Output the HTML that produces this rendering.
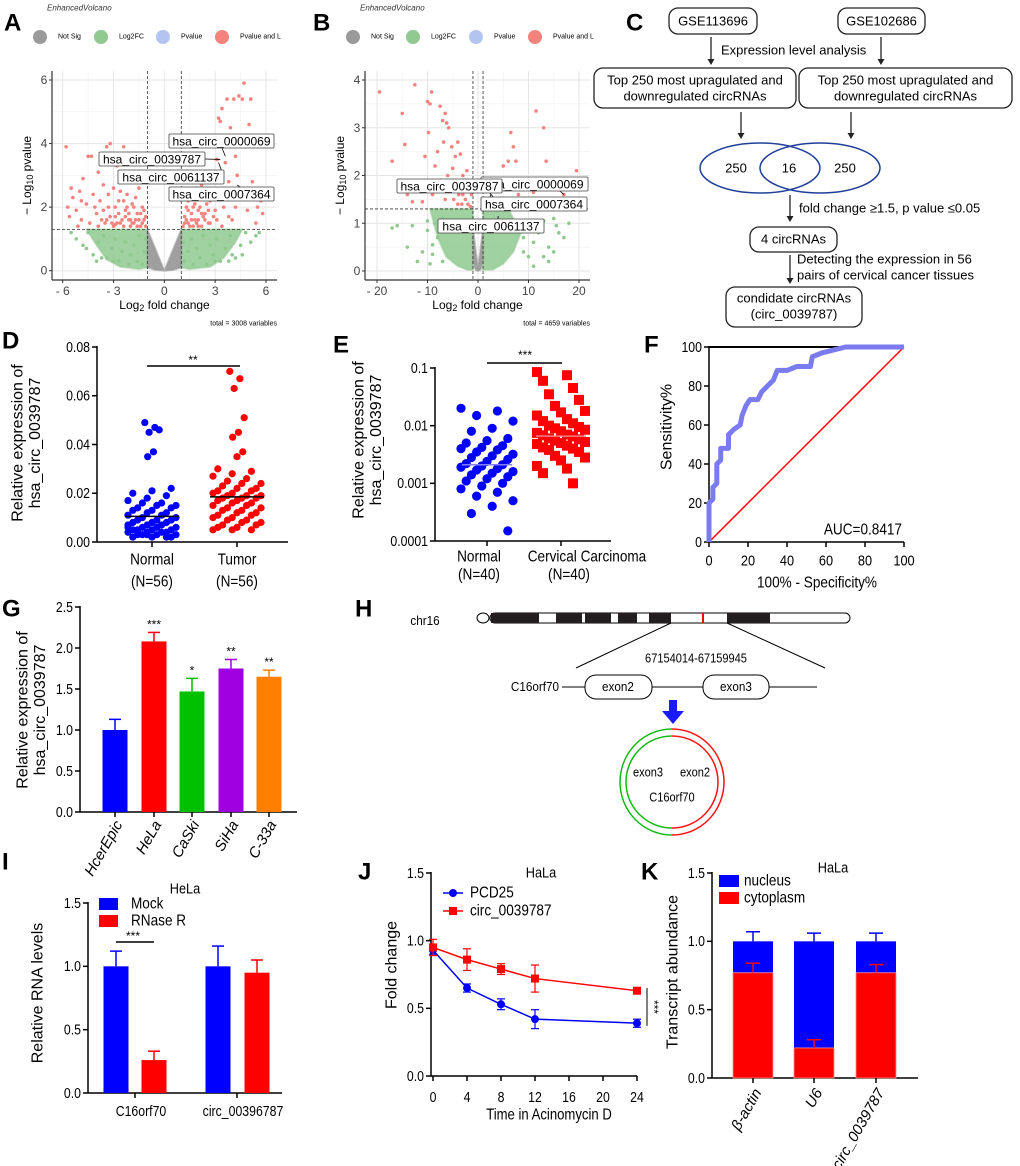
<!DOCTYPE html>
<html><head><meta charset="utf-8"><style>
html,body{margin:0;padding:0;background:#fff}
svg{display:block;font-family:"Liberation Sans",Arial,sans-serif}
</style></head><body>
<svg id="fig" width="1020" height="1166" viewBox="0 0 1020 1166" xmlns="http://www.w3.org/2000/svg">
<rect x="0" y="0" width="1020" height="1166" fill="#fff"/>
</svg>
<script>
// ===== DATA =====
const aRed=[-5.8,3.9,-5.7,2.0,-5.6,1.7,-5.5,2.6,-5.4,2.3,-5.2,1.9,-5.0,2.5,-4.9,1.6,-4.8,2.9,-4.6,2.1,-4.5,3.6,-4.3,3.6,-4.2,2.4,-4.0,1.8,-3.9,3.1,-3.8,2.2,-3.6,2.7,-3.5,1.5,-3.4,3.9,-3.3,2.0,-3.2,4.0,-3.0,2.6,-2.9,1.7,-2.8,3.3,-2.7,2.2,-2.6,1.5,-2.5,2.9,-2.4,3.9,-2.3,1.9,-2.2,2.4,-2.1,1.6,-2.0,2.8,-1.9,2.1,-1.8,1.5,-1.7,2.3,-1.6,1.8,-1.5,2.6,-1.4,1.4,-1.3,2.0,-1.2,1.6,-1.1,1.4,-4.4,1.5,-3.9,1.4,-3.1,1.5,-2.4,1.4,-2.0,1.6,-1.6,1.4,-3.6,1.9,-2.7,1.8,-4.9,2.2,-3.3,2.4,-2.2,2.0,-1.9,1.5,-1.4,1.8,-3.0,1.4,-2.6,2.5,-5.1,1.4,-1.5,1.6,-2.9,2.0,-3.7,1.6,-2.3,1.7,-1.2,1.9,-4.1,2.0,-2.8,1.5,-2.5,1.6,-2.1,1.8,-1.7,1.6,-1.3,1.5,-2.4,2.2,-3.2,1.7,-1.1,1.7,-1.8,2.0,-2.0,1.4,-2.9,1.45,-3.4,1.6,
1.1,1.4,1.2,1.7,1.3,2.0,1.4,1.5,1.5,2.3,1.6,1.8,1.7,1.4,1.8,2.1,1.9,2.6,2.0,1.6,2.1,2.0,2.2,1.4,2.3,2.4,2.4,1.8,2.5,2.9,2.6,1.5,2.7,2.2,2.8,3.1,2.9,1.7,3.0,2.5,3.1,3.5,3.2,4.8,3.3,4.7,3.4,5.1,3.5,2.0,3.6,3.4,3.7,5.4,3.8,2.8,3.9,4.5,4.0,1.6,4.1,5.4,4.2,3.6,4.3,3.0,4.4,5.5,4.5,2.3,4.6,5.4,4.7,5.9,4.8,3.9,4.9,1.9,5.0,4.6,5.1,5.4,5.2,2.8,5.4,1.5,5.5,2.0,5.7,2.2,5.8,1.8,2.2,2.7,1.6,2.3,2.0,1.9,1.4,1.9,3.4,1.4,2.7,1.5,3.8,1.7,4.2,2.0,1.9,1.5,2.5,2.1,1.3,1.6,1.7,2.0,2.4,1.6,3.0,1.9,1.5,1.4,2.9,2.3,1.2,1.5,1.6,1.6,2.0,1.4,2.3,1.7,2.6,1.9,1.4,2.2,1.8,1.6,3.1,1.6,2.2,1.8];
const aGreen=[-5.2,1.0,-4.8,0.8,-4.5,1.2,-4.2,0.5,-3.9,0.9,-3.6,1.1,-3.4,0.4,-3.1,0.7,-2.9,1.0,-2.7,0.3,-2.5,0.6,-2.3,0.9,-2.1,0.2,-2.0,0.5,-1.8,0.8,-1.6,0.3,-1.5,1.1,-1.3,0.2,-1.2,0.6,-1.1,1.0,-3.0,0.3,-5.5,1.2,-4.0,0.3,-4.6,0.7,-3.7,0.4,
1.1,0.9,1.2,0.3,1.4,0.6,1.6,1.0,1.7,0.2,1.9,0.7,2.1,0.4,2.3,1.1,2.5,0.2,2.7,0.8,2.9,0.5,3.1,1.0,3.3,0.3,3.6,0.7,3.9,1.1,4.2,0.4,4.5,0.8,4.8,1.2,5.1,0.9,5.4,1.1,3.0,0.3,4.0,0.5,5.6,1.2,3.8,0.3,4.6,0.5];
const aGreenCloudL=[-1,1.3,-4.6,1.3,-4.0,0.8,-3.4,0.35,-2.6,0.12,-1.5,0.05,-1,0.1];
const aGreenCloudR=[1,1.3,4.6,1.3,4.2,0.9,3.5,0.4,2.7,0.12,1.5,0.05,1,0.1];
const aGrey=[-1,1.3,-1,0.1,-0.5,0.02,0,0,0.5,0.02,1,0.1,1,1.3,0,0];
const bRed=[-19.5,3.75,-17,2.3,-15,3.3,-14.5,2.65,-14,1.6,-13,1.45,-12.5,3.9,-12,1.7,-11,1.45,-10.5,2.4,-10,3.55,-9.8,2.9,-9.5,3.5,-9.2,3.75,-9,1.6,-8.5,2.2,-8,2.5,-7.5,3.45,-7.3,1.9,-7,3.15,-6.8,2.7,-6.5,3.3,-6.2,3.1,-6,2.0,-5.8,3.0,-5.5,1.7,-5.2,2.6,-5,2.15,-4.8,1.5,-4.5,2.4,-4.2,1.9,-4,2.7,-3.8,1.6,-3.5,2.45,-3.2,1.4,-3,2.0,-2.8,1.8,-2.5,1.5,-2.2,2.1,-2,1.4,-1.8,1.7,-1.5,1.35,-1.3,1.6,-6.5,1.5,-8.8,1.8,-10.8,1.7,-4,1.4,-3,1.6,-5,1.8,-2.5,1.9,
2,1.5,3,1.7,4,1.4,5,2.2,6,2.3,7,2.6,7.5,2.3,8,1.6,9,1.9,10,1.5,11,1.65,11.5,3.35,13,3.0,13.5,2.3,14,1.5,16,1.7,17,1.6,19.5,2.1,6.5,2.9,5.5,1.8,3,1.45,1.8,1.5];
const bGreen=[-17,0.9,-16,0.95,-13,0.95,-10,1.05,-10,0.85,-9,0.55,-9,0.35,-11,0.4,-12,0.2,-8,0.7,-7,1.1,-7,0.2,-14,0.5,-9.5,0.15,8,1.0,9,0.4,10,0.3,11,0.6,12,0.8,13,0.3,14,0.5,15,1.1,15.5,0.95,16,0.8,17,0.7,18,1.0,13,1.05,14,0.2,15,0.4,10,0.9,11,0.1,-8.5,1.0,9,0.7];
const bGreenCloudL=[-1,1.3,-9.5,1.3,-8,0.7,-6.3,0.3,-4,0.1,-2,0.02,-1,0.02];
const bGreenCloudR=[1,1.3,6,1.3,8.5,0.8,7,0.4,5,0.15,3,0.03,1,0.02];
const bGrey=[-1,0.9,-1,0.2,-0.5,0.02,0,0,0.5,0.02,1,0.2,1,0.9,0.3,0.3,0,0.1,-0.3,0.3];
const dNormal=[0.049,0.047,0.045,0.046,0.037,0.035,0.022,0.021,0.020,0.019,0.018,0.017,0.016,0.016,0.015,0.015,0.014,0.014,0.013,0.013,0.012,0.012,0.011,0.011,0.010,0.010,0.009,0.009,0.009,0.008,0.008,0.008,0.007,0.007,0.007,0.006,0.006,0.006,0.005,0.005,0.005,0.005,0.004,0.004,0.004,0.004,0.003,0.003,0.003,0.003,0.002,0.002,0.002,0.002,0.003,0.006];
const dTumor=[0.070,0.067,0.063,0.051,0.045,0.043,0.037,0.035,0.030,0.029,0.028,0.027,0.026,0.025,0.024,0.024,0.023,0.022,0.022,0.021,0.021,0.020,0.020,0.019,0.019,0.019,0.018,0.018,0.018,0.017,0.017,0.016,0.016,0.015,0.015,0.014,0.014,0.013,0.013,0.012,0.012,0.011,0.011,0.010,0.010,0.009,0.009,0.008,0.008,0.007,0.007,0.006,0.006,0.005,0.005,0.005];
const dMedians=[0.0105,0.0185];
const dTicks=[0,0.02,0.04,0.06,0.08];
const dTickLabels=["0.00","0.02","0.04","0.06","0.08"];
const eNormal=[0.02,0.018,0.015,0.012,0.009,0.008,0.006,0.0055,0.005,0.0045,0.0042,0.004,0.0038,0.0035,0.0032,0.003,0.0028,0.0026,0.0024,0.0022,0.0021,0.002,0.0019,0.0018,0.0017,0.0016,0.0015,0.0014,0.0013,0.0012,0.0011,0.001,0.0009,0.0008,0.0007,0.0006,0.0005,0.0004,0.0003,0.00015];
const eCarcinoma=[0.085,0.075,0.06,0.045,0.035,0.028,0.022,0.018,0.017,0.015,0.013,0.012,0.011,0.01,0.0095,0.009,0.0085,0.008,0.0075,0.007,0.0068,0.0065,0.006,0.0058,0.0055,0.0052,0.005,0.0048,0.0045,0.0042,0.004,0.0038,0.0035,0.003,0.0028,0.0025,0.002,0.0018,0.0015,0.001];
const eMedians=[0.0021,0.0066];
const eTicks=[0.0001,0.001,0.01,0.1];
const eTickLabels=["0.0001","0.001","0.01","0.1"];
const rocFpr=[0,0,2,2,4,4,6,6,10,10,13,16,17,19,21,25,27,30,33,35,40,45,52,53,58,62,70,100];
const rocTpr=[0,20,22,28,30,40,42,48,48,55,58,60,65,70,73,73,77,80,83,88,88,90,90,95,97,98,100,100];
const gCells=["HcerEpic","HeLa","CaSki","SiHa","C-33a"];
const gValues=[1.0,2.08,1.47,1.75,1.65];
const gErrors=[0.13,0.11,0.16,0.11,0.08];
const gStars=["","***","*","**","**"];
const gColors=["#0000ff","#ff0000","#00c000","#a000e0","#ff8000"];
const iGroups=["C16orf70","circ_00396787"];
const iMock=[1.0,1.0];
const iMockErr=[0.12,0.16];
const iRNase=[0.26,0.95];
const iRNaseErr=[0.07,0.10];
const jTimes=[0,4,8,12,24];
const jPCD25=[0.93,0.65,0.53,0.42,0.39];
const jPCD25Err=[0.03,0.03,0.04,0.07,0.03];
const jCirc=[0.95,0.86,0.79,0.72,0.63];
const jCircErr=[0.06,0.08,0.04,0.10,0.02];
const kGenes=["β-actin","U6","circ_0039787"];
const kNucleus=[1.0,1.0,1.0];
const kNucErr=[0.07,0.06,0.06];
const kCyto=[0.77,0.22,0.77];
const kCytoErr=[0.07,0.06,0.06];

// ===== HELPERS =====
const NS='http://www.w3.org/2000/svg';
const svg=document.getElementById('fig');
function el(tag,a,name,parent){
  const e=document.createElementNS(NS,tag);
  for(const k in a) e.setAttribute(k,a[k]);
  
  
  (parent||svg).appendChild(e);return e;
}
function tx(x,y,str,size,name,opt){
  opt=opt||{};
  const a={x:x,y:y,'font-size':size,fill:opt.fill||'#000','text-anchor':opt.anchor||'middle','dominant-baseline':'central'};
  if(opt.weight)a['font-weight']=opt.weight;
  if(opt.style)a['font-style']=opt.style;
  if(opt.rot!==undefined)a.transform='rotate('+opt.rot+' '+x+' '+y+')';
  if(opt.sx)a.transform='translate('+x+' '+y+') scale('+opt.sx+' 1) translate('+(-x)+' '+(-y)+')'+(opt.rot!==undefined?' rotate('+opt.rot+' '+x+' '+y+')':'');
  const t=el('text',a,name);t.textContent=str;return t;
}
function line(x1,y1,x2,y2,stroke,w,name,dash){
  const a={x1:x1,y1:y1,x2:x2,y2:y2,stroke:stroke,'stroke-width':w};
  if(dash)a['stroke-dasharray']=dash;
  return el('line',a,name);
}
function lin(d0,d1,r0,r1){return v=>r0+(v-d0)/(d1-d0)*(r1-r0);}
function panelLabel(x,y,s){tx(x,y,s,24,'panel-label-'+s.toLowerCase(),{weight:'bold',anchor:'start'});}

// ===== VOLCANO =====
function volcano(c){
  const X=lin(c.xmin,c.xmax,c.x0,c.x1), Y=lin(0,c.ymax,c.y0,c.y1);
  el('rect',{x:c.left,y:c.top,width:c.right-c.left,height:c.bottom-c.top,fill:'#fff'},'plot-area');
  c.xminor.forEach(v=>line(X(v),c.top,X(v),c.bottom,'#f2f2f2',0.7,'x-minor-gridline'));
  c.yminor.forEach(v=>line(c.left,Y(v),c.right,Y(v),'#f2f2f2',0.7,'y-minor-gridline'));
  c.xt.forEach(v=>line(X(v),c.top,X(v),c.bottom,'#e6e6e6',1,'x-gridline'));
  c.yt.forEach(v=>line(c.left,Y(v),c.right,Y(v),'#e6e6e6',1,'y-gridline'));
  function poly(arr,fill,name,op){let p=[];for(let i=0;i<arr.length;i+=2)p.push(X(arr[i])+','+Y(arr[i+1]));el('polygon',{points:p.join(' '),fill:fill,'fill-opacity':op,'stroke':fill,'stroke-width':2,'stroke-opacity':op*0.6,'stroke-linejoin':'round'},name);}
  poly(c.gl,'#8fc98f','green-density-left',0.85);poly(c.gr,'#8fc98f','green-density-right',0.85);
  poly(c.grey,'#9a9a9a','grey-density',0.95);
  for(let i=0;i<c.green.length;i+=2)el('circle',{cx:X(c.green[i]),cy:Y(c.green[i+1]),r:1.8,fill:'#8fc98f'},'green-point');
  for(let i=0;i<c.red.length;i+=2)el('circle',{cx:X(c.red[i]),cy:Y(c.red[i+1]),r:1.8,fill:'#f4827d'},'red-point');
  line(X(-1),c.top,X(-1),c.bottom,'#333',0.8,'fc-threshold-left','3,2');
  line(X(1),c.top,X(1),c.bottom,'#333',0.8,'fc-threshold-right','3,2');
  line(c.left,Y(1.3),c.right,Y(1.3),'#333',0.8,'p-threshold','3,2');
  line(c.left,c.top,c.left,c.bottom,'#333',1.2,'y-axis-line');
  line(c.left,c.bottom,c.right,c.bottom,'#333',1.2,'x-axis-line');
  c.xt.forEach(v=>{line(X(v),c.bottom,X(v),c.bottom+3,'#333',1,'x-tick');tx(X(v),c.bottom+11,(v<0?'- '+(-v):''+v),12,'x-tick-label',{fill:'#444'});});
  c.yt.forEach(v=>{line(c.left-3,Y(v),c.left,Y(v),'#333',1,'y-tick');tx(c.left-8,Y(v),''+v,12,'y-tick-label',{fill:'#444'});});
  const t=tx((c.left+c.right)/2,c.bottom+25,'',12,'x-axis-title');
  t.innerHTML='Log<tspan font-size="9" dy="3">2</tspan><tspan dy="-3"> fold change</tspan>';
  const yt=tx(c.left-25,(c.top+c.bottom)/2,'',12,'y-axis-title',{rot:-90});
  yt.innerHTML='− Log<tspan font-size="9" dy="3">10</tspan><tspan dy="-3"> pvalue</tspan>';
  tx(c.right,c.bottom+44,c.total,7,'total-variables-note',{anchor:'end'});
  tx(c.left-5,8,'EnhancedVolcano',8,'plot-title',{anchor:'start',style:'italic',fill:'#333'});
  const lg=[['Not Sig','#9a9a9a'],['Log2FC','#8fc98f'],['Pvalue','#b4c4f0'],['Pvalue and L','#f4827d']];
  lg.forEach((d,i)=>{const lx=c.legX[i];el('circle',{cx:lx,cy:37,r:7,fill:d[1]},'legend-marker');tx(lx+18,37,d[0],7,'legend-label',{anchor:'start'});});
  c.labels.forEach(L=>{
    el('line',{x1:L.ax,y1:L.ay,x2:X(L.px),y2:Y(L.py),stroke:'#000','stroke-width':0.8},'label-connector');
    el('rect',{x:L.x,y:L.y,width:L.w,height:14,fill:'#fff',stroke:'#444','stroke-width':0.8,rx:1},'label-box');
    tx(L.x+L.w/2,L.y+7.5,L.t,12,'gene-label');
  });
}
panelLabel(4,23,'A');
volcano({xmin:-6,xmax:6,x0:62.7,x1:266,ymax:6,y0:270.7,y1:80,left:52,right:277,top:71,bottom:280,
  xt:[-6,-3,0,3,6],yt:[0,2,4,6],xminor:[-4.5,-1.5,1.5,4.5],yminor:[1,3,5],
  red:aRed,green:aGreen,gl:aGreenCloudL,gr:aGreenCloudR,grey:aGrey,total:'total = 3008 variables',legX:[40,101,163,222],
  labels:[{t:'hsa_circ_0000069',x:169,y:134,w:105,ax:222,ay:148,px:3.6,py:3.6},
          {t:'hsa_circ_0039787',x:99,y:152,w:106,ax:205,ay:159,px:3.3,py:3.5},
          {t:'hsa_circ_0061137',x:118,y:170,w:106,ax:224,ay:177,px:3.2,py:3.4},
          {t:'hsa_circ_0007364',x:169,y:187,w:105,ax:240,ay:187,px:4.3,py:2.7}]});
panelLabel(313,23,'B');
volcano({xmin:-20,xmax:20,x0:377,x1:579,ymax:4,y0:271,y1:80,left:365,right:590,top:71,bottom:280,
  xt:[-20,-10,0,10,20],yt:[0,1,2,3,4],xminor:[-15,-5,5,15],yminor:[0.5,1.5,2.5,3.5],
  red:bRed,green:bGreen,gl:bGreenCloudL,gr:bGreenCloudR,grey:bGrey,total:'total = 4659 variables',legX:[353,413,476,535],
  labels:[{t:'hsa_circ_0000069',x:481,y:177,w:107,ax:560,ay:191,px:17,py:1.6},
          {t:'hsa_circ_0039787',x:397,y:179,w:105,ax:490,ay:193,px:3,py:1.55},
          {t:'hsa_circ_0007364',x:481,y:197,w:106,ax:490,ay:197,px:2.5,py:1.6},
          {t:'hsa_circ_0061137',x:438,y:219,w:106,ax:498,ay:219,px:4,py:1.15}]});

// ===== PANEL C =====
panelLabel(626,23,'C');
function box(x,y,w,h,lines,name,ly){
  el('rect',{x:x,y:y,width:w,height:h,rx:9,fill:'#fff',stroke:'#222','stroke-width':1.3},name);
  lines.forEach((s,i)=>tx(x+w/2,ly[i],s,13,name+'-text'));
}
function arrow(x,y1,y2,name){line(x,y1,x,y2-4,'#222',1.3,name);el('polygon',{points:(x-3.5)+','+(y2-6)+' '+(x+3.5)+','+(y2-6)+' '+x+','+y2,fill:'#222'},name+'-head');}
box(669,8,88,26,['GSE113696'],'dataset-box-1',[21]);
box(838,8,87,26,['GSE102686'],'dataset-box-2',[21]);
arrow(711,37,65,'arrow-1');arrow(881,37,65,'arrow-2');
tx(721,50,'Expression level analysis',13,'step-label-expression',{anchor:'start'});
box(594,68,202,40,['Top 250 most upragulated and','downregulated circRNAs'],'top250-box-1',[80,96]);
box(799,68,213,40,['Top 250 most upragulated and','downregulated circRNAs'],'top250-box-2',[80,96]);
arrow(741,112,139,'arrow-3');arrow(851,112,139,'arrow-4');
el('ellipse',{cx:760,cy:168,rx:60,ry:25,fill:'none',stroke:'#1f3f99','stroke-width':1.5},'venn-left');
el('ellipse',{cx:820,cy:168,rx:60,ry:25,fill:'none',stroke:'#1f3f99','stroke-width':1.5},'venn-right');
tx(736,168,'250',13,'venn-count-left');tx(789,168,'16',13,'venn-count-overlap');tx(845,168,'250',13,'venn-count-right');
arrow(790,195,222,'arrow-5');
tx(799,208,'fold change ≥1.5, p value ≤0.05',13,'step-label-filter',{anchor:'start'});
box(750,227,87,25,['4 circRNAs'],'four-circrnas-box',[239]);
arrow(790,255,284,'arrow-6');
tx(797,259,'Detecting the expression in 56',13,'step-label-detect-1',{anchor:'start'});
tx(797,275,'pairs of cervical cancer tissues',13,'step-label-detect-2',{anchor:'start'});
box(726,287,136,40,['condidate circRNAs','(circ_0039787)'],'candidate-box',[298,314]);

function yAxis(x,yb,yt,ticks,labels,Y,size,name){
  line(x,yt-1,x,yb,'#000',1.5,name+'-y-axis');
  ticks.forEach((v,i)=>{line(x-5,Y(v),x,Y(v),'#000',1.5,name+'-y-tick');tx(x-7,Y(v),labels[i],size,name+'-y-tick-label',{anchor:'end',sx:0.82});});
}
function ytitle(x,yc,lines,size,name){lines.forEach((s,i)=>tx(x+i*size*1.1,yc,s,size,name+'-y-axis-title',{rot:-90}));}

// ===== PANEL D =====
panelLabel(2,341,'D');
(function(){
  const Y=lin(0,0.08,542,347);
  ytitle(18,443,['Relative expression of','hsa_circ_0039787'],16,'d');
  yAxis(97,542,347,dTicks,dTickLabels,Y,15,'d');
  line(97,542,288,542,'#000',1.5,'d-x-axis');
  const cx=[152,237],cols=['#0000ff','#ff0000'];
  [dNormal,dTumor].forEach((arr,g)=>{
    arr.forEach((v,i)=>{const off=(((i*7)%11)-5)/5*24*(v>0.03?0.3:1);
      el('circle',{cx:cx[g]+off,cy:Y(v),r:3.6,fill:cols[g]},g?'tumor-point':'normal-point');});
    line(cx[g]-27,Y(dMedians[g]),cx[g]+27,Y(dMedians[g]),'#000',1.5,'median-line');
    line(cx[g],542,cx[g],547,'#000',1.5,'d-x-tick');
  });
  tx(152,560,'Normal',16,'d-category-normal',{sx:0.85});tx(237,560,'Tumor',16,'d-category-tumor',{sx:0.85});
  tx(152,582,'(N=56)',16,'d-n-normal',{sx:0.85});tx(237,582,'(N=56)',16,'d-n-tumor',{sx:0.85});
  line(147,366,240,366,'#000',1.5,'significance-bar');tx(193,360,'**',12,'significance-stars');
})();

// ===== PANEL E =====
panelLabel(333,345,'E');
(function(){
  const L=lin(-4,-1,541,368),Y=v=>L(Math.log10(v));
  ytitle(359,440,['Relative expression of','hsa_circ_0039787'],16,'e');
  yAxis(435,541,368,eTicks,eTickLabels,Y,15,'e');
  line(435,541,611,541,'#000',1.5,'e-x-axis');
  const cx=[487,561];
  eNormal.forEach((v,i)=>{const off=(((i*7)%11)-5)/5*26;el('circle',{cx:cx[0]+off,cy:Y(v),r:4.6,fill:'#0000ff'},'normal-point');});
  eCarcinoma.forEach((v,i)=>{const off=(((i*5)%9)-4)/4*24;el('rect',{x:cx[1]+off-5,y:Y(v)-5,width:10,height:10,fill:'#ff0000'},'carcinoma-point');});
  [0,1].forEach(g=>{line(cx[g]-25,Y(eMedians[g]),cx[g]+25,Y(eMedians[g]),g?'#ff8080':'#8080ff',1.5,'median-line');line(cx[g],541,cx[g],546,'#000',1.5,'e-x-tick');});
  tx(479,557,'Normal',16,'e-category-normal',{sx:0.85});tx(587,557,'Cervical Carcinoma',16,'e-category-carcinoma',{sx:0.85});
  tx(479,575,'(N=40)',16,'e-n-normal',{sx:0.85});tx(569,575,'(N=40)',16,'e-n-carcinoma',{sx:0.85});
  line(487,363,562,363,'#000',1.5,'significance-bar');tx(525,355,'***',12,'significance-stars');
})();

// ===== PANEL F =====
panelLabel(644,345,'F');
(function(){
  const X=lin(0,100,709,904),Y=lin(0,100,542,347);
  const t=[0,20,40,60,80,100];
  yAxis(709,542,347,t,t.map(String),Y,15,'f');
  line(709,542,904,542,'#000',1.5,'f-x-axis');
  t.forEach(v=>{line(X(v),542,X(v),547,'#000',1.5,'f-x-tick');tx(X(v),560,String(v),15,'f-x-tick-label',{sx:0.85});});
  line(709,347,840,347,'#000',2,'top-reference-line');
  line(X(0),Y(0),X(100),Y(100),'#ff0000',1.5,'diagonal-reference');
  let p=rocFpr.map((f,i)=>X(f)+','+Y(rocTpr[i])).join(' ');
  el('polyline',{points:p,fill:'none',stroke:'#7b7bf0','stroke-width':5,'stroke-linejoin':'round'},'roc-curve');
  tx(667,427,'Sensitivity%',16,'f-y-axis-title',{rot:-90});
  tx(817,583,'100% - Specificity%',16,'f-x-axis-title',{sx:0.85});
  tx(902,530,'AUC=0.8417',16,'auc-label',{anchor:'end',sx:0.85});
})();

// ===== PANEL G =====
panelLabel(2,609,'G');
(function(){
  const Y=lin(0,2.5,812,607);const t=[0,0.5,1,1.5,2,2.5];
  ytitle(23,710,['Relative expression of','hsa_circ_0039787'],16,'g');
  yAxis(80,812,607,t,t.map(v=>v.toFixed(1)),Y,15,'g');
  line(80,812,297,812,'#000',1.5,'g-x-axis');
  const cx=[115,154,192,231,269];
  gValues.forEach((v,i)=>{
    el('rect',{x:cx[i]-12.5,y:Y(v),width:25,height:812-Y(v),fill:gColors[i]},'bar-'+gCells[i].toLowerCase());
    line(cx[i],Y(v),cx[i],Y(v+gErrors[i]),gColors[i],1.5,'error-bar');
    line(cx[i]-6,Y(v+gErrors[i]),cx[i]+6,Y(v+gErrors[i]),gColors[i],1.5,'error-cap');
    if(gStars[i])tx(cx[i],Y(v+gErrors[i])-8,gStars[i],12,'significance-stars');
    line(cx[i],812,cx[i],817,'#000',1.5,'g-x-tick');
    tx(cx[i]+4,822,gCells[i],15,'g-x-label',{anchor:'end',style:'italic',rot:-60});
  });
})();

// ===== PANEL H =====
panelLabel(355,609,'H');
(function(){
  tx(425,621,'chr16',13,'chromosome-label',{sx:0.9});
  el('ellipse',{cx:483,cy:618,rx:6,ry:5,fill:'#fff',stroke:'#000','stroke-width':1},'chromosome-p-tip');
  el('rect',{x:490,y:613,width:360,height:10,rx:5,fill:'#fff',stroke:'#000','stroke-width':1},'chromosome');
  [[491,539],[556,582],[585,611],[618,637],[649,671],[727,770]].forEach(b=>el('rect',{x:b[0],y:613,width:b[1]-b[0],height:10,fill:'#231f20'},'chromosome-band'));
  line(703,613,703,623,'#ff0000',2,'locus-marker');
  line(671,623,576,668,'#000',1,'zoom-line-left');line(727,623,825,668,'#000',1,'zoom-line-right');
  tx(696,658,'67154014-67159945',13,'genomic-coordinates',{sx:0.85});
  tx(559,687,'C16orf70',13,'gene-name',{anchor:'end',sx:0.9});
  line(562,687,817,687,'#000',1,'intron-line');
  el('rect',{x:585,y:675,width:67,height:24,rx:11,fill:'#fff',stroke:'#000','stroke-width':1},'exon2-box');
  el('rect',{x:703,y:675,width:66,height:24,rx:11,fill:'#fff',stroke:'#000','stroke-width':1},'exon3-box');
  tx(618,687,'exon2',13,'exon2-label',{sx:0.9});tx(736,687,'exon3',13,'exon3-label',{sx:0.9});
  el('rect',{x:669,y:700,width:8,height:11,fill:'#1a1aff'},'arrow-shaft');
  el('polygon',{points:'662,711 684,711 673,724',fill:'#1a1aff'},'arrow-head');
  el('path',{d:'M672,729 A52,53 0 0 0 672,835',fill:'none',stroke:'#11bb11','stroke-width':1.5},'circ-outer-green');
  el('path',{d:'M672,729 A52,53 0 0 1 672,835',fill:'none',stroke:'#ff1111','stroke-width':1.5},'circ-outer-red');
  el('path',{d:'M672,736 A46,46 0 0 0 672,828',fill:'none',stroke:'#11bb11','stroke-width':1.5},'circ-inner-green');
  el('path',{d:'M672,736 A46,46 0 0 1 672,828',fill:'none',stroke:'#ff1111','stroke-width':1.5},'circ-inner-red');
  tx(648,772,'exon3',13,'circ-exon3-label',{sx:0.85});tx(695,772,'exon2',13,'circ-exon2-label',{sx:0.85});
  tx(672,797,'C16orf70',13,'circ-gene-label',{sx:0.85});
})();

// ===== PANEL I =====
panelLabel(2,862,'I');
(function(){
  const Y=lin(0,1.5,1093,903);const t=[0,0.5,1,1.5];
  tx(38,993,'Relative RNA levels',16,'i-y-axis-title',{rot:-90});
  yAxis(88,1093,903,t,t.map(v=>v.toFixed(1)),Y,15,'i');
  line(88,1093,282,1093,'#000',1.5,'i-x-axis');
  const mx=[116,218],rx=[154,257],cc=[135,237];
  iGroups.forEach((g,i)=>{
    [[mx[i],iMock[i],iMockErr[i],'#0000ff','mock'],[rx[i],iRNase[i],iRNaseErr[i],'#ff0000','rnase-r']].forEach(d=>{
      el('rect',{x:d[0]-12.5,y:Y(d[1]),width:25,height:1093-Y(d[1]),fill:d[3]},'bar-'+d[4]);
      line(d[0],Y(d[1]),d[0],Y(d[1]+d[2]),d[3],1.5,'error-bar');
      line(d[0]-6,Y(d[1]+d[2]),d[0]+6,Y(d[1]+d[2]),d[3],1.5,'error-cap');
    });
    line(cc[i],1093,cc[i],1098,'#000',1.5,'i-x-tick');
    tx(cc[i]+6,1111,g,15,'i-x-label',{sx:0.82});
  });
  tx(185,888,'HeLa',15,'i-title',{sx:0.85});
  el('rect',{x:99,y:898,width:19,height:12,fill:'#0000ff'},'legend-mock-swatch');
  tx(131,904,'Mock',16,'legend-mock-label',{anchor:'start',sx:0.85});
  el('rect',{x:99,y:915,width:19,height:12,fill:'#ff0000'},'legend-rnase-swatch');
  tx(131,921,'RNase R',16,'legend-rnase-label',{anchor:'start',sx:0.85});
  line(116,942,154,942,'#000',1.5,'significance-bar');tx(133,936,'***',12,'significance-stars');
})();

// ===== PANEL J =====
panelLabel(358,872,'J');
(function(){
  const X=lin(0,24,433,637),Y=lin(0,1.5,1076,873);const t=[0,0.5,1,1.5];
  tx(392,965,'Fold change',16,'j-y-axis-title',{rot:-90});
  yAxis(431,1076,873,t,t.map(v=>v.toFixed(1)),Y,15,'j');
  line(431,1076,637,1076,'#000',1.5,'j-x-axis');
  [0,4,8,12,16,20,24].forEach(v=>{line(X(v),1076,X(v),1081,'#000',1.5,'j-x-tick');tx(X(v),1097,String(v),15,'j-x-tick-label',{sx:0.82});});
  tx(549,1115,'Time in Acinomycin D',16,'j-x-axis-title',{sx:0.82});
  tx(541,872,'HaLa',15,'j-title',{sx:0.85});
  [[jPCD25,jPCD25Err,'#0000ff','pcd25',0],[jCirc,jCircErr,'#ff0000','circ-0039787',1]].forEach(s=>{
    el('polyline',{points:jTimes.map((tt,i)=>X(tt)+','+Y(s[0][i])).join(' '),fill:'none',stroke:s[2],'stroke-width':1.5},'line-'+s[3]);
    jTimes.forEach((tt,i)=>{
      line(X(tt),Y(s[0][i]-s[1][i]),X(tt),Y(s[0][i]+s[1][i]),s[2],1.2,'error-bar');
      line(X(tt)-4,Y(s[0][i]+s[1][i]),X(tt)+4,Y(s[0][i]+s[1][i]),s[2],1.2,'error-cap');
      line(X(tt)-4,Y(s[0][i]-s[1][i]),X(tt)+4,Y(s[0][i]-s[1][i]),s[2],1.2,'error-cap');
      if(s[4])el('rect',{x:X(tt)-4,y:Y(s[0][i])-4,width:8,height:8,fill:s[2]},'point-'+s[3]);
      else el('circle',{cx:X(tt),cy:Y(s[0][i]),r:4,fill:s[2]},'point-'+s[3]);
    });
  });
  line(443,893,463,893,'#0000ff',1.5,'legend-pcd25-line');el('circle',{cx:453,cy:893,r:4,fill:'#0000ff'},'legend-pcd25-marker');
  tx(470,893,'PCD25',16,'legend-pcd25-label',{anchor:'start',sx:0.85});
  line(443,911,463,911,'#ff0000',1.5,'legend-circ-line');el('rect',{x:449,y:907,width:8,height:8,fill:'#ff0000'},'legend-circ-marker');
  tx(470,911,'circ_0039787',16,'legend-circ-label',{anchor:'start',sx:0.85});
  line(647,Y(0.65),647,Y(0.37),'#000',1,'significance-bracket');
  tx(654,Y(0.51),'***',12,'significance-stars',{rot:90});
})();

// ===== PANEL K =====
panelLabel(641,872,'K');
(function(){
  const Y=lin(0,1.5,1078,873);const t=[0,0.5,1,1.5];
  tx(673,972,'Transcript abundance',16,'k-y-axis-title',{rot:-90});
  yAxis(712,1078,873,t,t.map(v=>v.toFixed(1)),Y,15,'k');
  line(712,1078,918,1078,'#000',1.5,'k-x-axis');
  const cx=[753,814,876];
  kGenes.forEach((g,i)=>{
    el('rect',{x:cx[i]-20,y:Y(kNucleus[i]),width:40,height:1078-Y(kNucleus[i]),fill:'#0000ff'},'bar-nucleus');
    line(cx[i],Y(kNucleus[i]),cx[i],Y(kNucleus[i]+kNucErr[i]),'#0000ff',1.5,'error-bar');
    line(cx[i]-7,Y(kNucleus[i]+kNucErr[i]),cx[i]+7,Y(kNucleus[i]+kNucErr[i]),'#0000ff',1.5,'error-cap');
    el('rect',{x:cx[i]-20,y:Y(kCyto[i]),width:40,height:1078-Y(kCyto[i]),fill:'#ff0000',stroke:'#ff9090','stroke-width':0.8},'bar-cytoplasm');
    line(cx[i],Y(kCyto[i]),cx[i],Y(kCyto[i]+kCytoErr[i]),'#ff0000',1.5,'error-bar');
    line(cx[i]-7,Y(kCyto[i]+kCytoErr[i]),cx[i]+7,Y(kCyto[i]+kCytoErr[i]),'#ff0000',1.5,'error-cap');
    line(cx[i],1078,cx[i],1083,'#000',1.5,'k-x-tick');
    tx(cx[i]+5,1090,g,15,'k-x-label',{anchor:'end',style:'italic',rot:-60});
  });
  tx(833,867,'HaLa',15,'k-title',{sx:0.85});
  el('rect',{x:719,y:875,width:20,height:12,fill:'#0000ff'},'legend-nucleus-swatch');
  tx(744,881,'nucleus',16,'legend-nucleus-label',{anchor:'start',sx:0.85});
  el('rect',{x:719,y:892,width:20,height:12,fill:'#ff0000'},'legend-cytoplasm-swatch');
  tx(744,898,'cytoplasm',16,'legend-cytoplasm-label',{anchor:'start',sx:0.85});
})();
</script>
</body></html>
